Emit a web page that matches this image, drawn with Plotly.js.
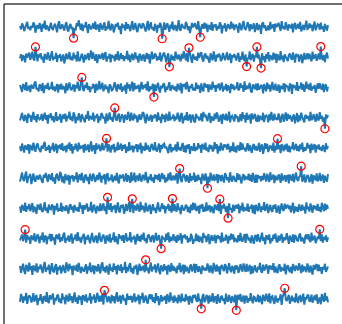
<!DOCTYPE html>
<html>
<head>
<meta charset="utf-8">
<script src="https://cdn.plot.ly/plotly-3.0.1.min.js"></script>
<style>html,body{margin:0;padding:0;background:#fff;}#chart{width:342px;height:324px;}</style>
</head>
<body>
<div id="chart"></div>
<script>
// Ten stacked signals (top row first), 300 samples each, values in tenths of a signal unit
const sig0 = [3,-8,12,5,-14,-2,9,17,-6,1,
-11,4,-3,15,8,-19,0,6,-7,13,
2,-16,10,-4,21,-9,5,-1,-13,7,
14,-5,-10,3,11,-2,-18,8,19,-6,
-3,9,1,-12,6,16,-8,-15,4,10,
-7,0,-37,-4,-11,13,2,22,5,-9,
11,-14,6,-1,17,-5,-20,9,3,-8,
0,12,-6,18,-10,4,7,-16,13,-3,
-9,5,15,-13,2,-7,20,-2,-11,8,
6,-18,-4,10,1,14,-9,3,-24,11,
-2,7,-12,16,-6,9,-1,-14,5,19,
-10,3,13,-8,-17,6,11,0,-5,12,
8,-4,-15,2,20,-11,4,16,-7,-1,
-13,10,1,-19,7,-3,14,5,-39,-6,
15,-9,4,12,-2,-16,8,-5,18,-11,
1,6,-14,-3,23,-8,-12,10,2,-4,
-6,17,9,-10,3,-20,5,13,-1,7,
12,-2,-8,19,-15,-34,0,9,-6,14,
-4,11,-17,6,2,-9,16,-13,8,-1,
9,-12,3,-6,15,7,-21,4,-3,12,
-15,2,10,-1,-7,18,-4,11,-10,5,
6,-3,-19,14,1,-11,8,20,-5,-8,
-1,16,4,-14,9,-6,-2,12,-17,3,
13,-10,7,2,-23,10,15,-4,6,-12,
-8,5,-11,17,-3,-1,9,-16,11,0,
4,14,-7,-13,19,-5,2,-9,16,-2,
-12,8,1,-4,11,-18,6,13,-8,3,
10,-6,17,-15,-1,7,-10,4,21,-7,
-5,12,-2,8,-14,3,18,-11,-3,9,
7,-9,14,-6,2,-16,10,1,-12,6];
const sig1 = [-4,10,-13,6,1,-17,12,-2,8,15,
-9,3,18,-6,-11,34,5,-14,9,-1,
13,-7,2,-19,11,4,-8,16,-3,-12,
6,20,-10,1,-5,14,-16,7,-2,10,
-14,4,9,-21,3,12,-6,-1,17,-9,
2,-11,15,-4,7,-15,19,-8,-13,5,
11,-3,-18,8,-7,1,13,-10,4,22,
-6,16,-1,-12,10,-20,3,9,-5,0,
14,-9,6,17,-15,2,-4,11,-17,8,
-2,5,-14,10,-8,19,-11,-3,13,-6,
7,-13,3,-5,21,-10,8,-16,1,12,
-10,0,16,-7,4,-18,11,6,-12,3,
9,-15,-2,14,-6,10,-21,5,18,-4,
-3,12,7,-11,2,-8,16,-14,0,10,
15,-6,-17,4,13,-32,-1,8,-9,3,
-12,18,1,-7,9,-2,-14,11,-5,20,
4,-10,13,-16,31,6,-4,-19,10,-1,
-8,2,-12,15,-3,9,17,-6,-15,7,
12,-5,5,-9,-18,13,1,-11,19,-3,
-15,8,-1,11,6,-13,-7,14,-2,-10,
3,16,-9,-4,12,-20,7,-1,10,-6,
-11,5,14,-16,2,-8,18,-3,-13,9,
-31,-2,-6,19,-10,4,11,-15,6,-1,
34,-4,8,-12,-36,13,-9,3,-17,10,
-5,17,-14,6,1,-10,15,-7,12,-19,
10,-3,-11,20,-8,5,-16,9,2,-6,
-13,7,12,-2,-9,16,-4,-18,11,4,
6,-15,3,9,-20,1,14,-8,-1,13,
-7,11,-4,-14,18,-6,2,10,-12,5,
12,-8,35,-3,-10,7,-16,4,15,-5];
const sig2 = [8,-3,-15,11,4,-9,17,-12,2,6,
-16,9,1,-5,13,20,-7,-2,-14,10,
5,-11,14,-19,0,7,-4,15,-8,-1,
-2,18,-9,3,-13,6,11,-17,9,-6,
12,-7,4,-1,-20,14,-10,2,16,-4,
-9,1,10,-15,7,-3,19,-6,-11,13,
33,-5,-12,8,-2,16,-8,4,-16,1,
-4,11,6,-18,12,-9,0,21,-7,3,
15,-13,-3,9,-6,2,-19,10,5,-10,
-8,4,17,-2,-14,11,-1,-7,13,-15,
2,-9,8,-21,16,-4,10,-12,6,19,
-13,14,-6,1,-3,9,-16,5,18,-7,
7,-2,11,-10,20,-14,3,-5,-1,12,
-32,9,-11,4,15,-7,-17,6,-3,10,
13,-16,2,-8,5,17,-12,0,8,-4,
-6,3,-14,12,-1,-9,15,-20,10,6,
9,-7,18,-3,-15,4,1,11,-10,-2,
-11,16,-5,7,2,-18,13,-6,-13,14,
4,-1,10,-16,9,-4,-8,19,-2,7,
-15,8,-2,13,-10,5,16,-14,3,-7,
11,-12,6,0,-19,12,-5,9,-9,2,
-3,17,-10,-6,14,-1,7,-15,20,-8,
6,-4,1,15,-12,-17,10,3,-6,12,
-10,13,-7,-2,8,4,-20,11,-1,-13,
16,-5,9,-14,2,18,-9,-3,12,-11,
-7,10,-18,5,-1,-6,14,-16,7,3,
2,-13,12,8,-22,9,-2,6,-10,17,
-12,4,-3,16,-8,11,-15,1,19,-5,
10,-9,15,-11,3,-4,8,-18,-2,13,
-5,14,-1,-7,12,-16,5,10,-13,2];
const sig3 = [-10,6,15,-3,-12,9,1,-18,13,4,
7,-14,-2,19,-8,5,-16,11,-1,-6,
-3,12,-11,2,16,-7,8,-20,10,0,
14,-9,5,-15,-4,18,-11,3,-6,12,
-17,1,10,-5,13,-13,6,-2,20,-8,
4,-12,17,8,-19,2,-9,14,-1,-15,
11,3,-7,-16,9,-4,21,-10,5,-3,
-6,16,-13,6,-1,12,-18,4,-9,15,
9,-4,2,-20,14,-11,-3,17,-7,1,
-14,8,32,-6,-10,5,13,-15,3,11,
2,-17,10,-1,-8,19,-5,-12,16,-4,
-9,13,-3,7,-16,1,11,-7,-2,18,
15,-6,-19,12,4,-10,-1,9,-14,6,
-2,10,5,-13,17,-8,3,-18,12,-5,
8,-15,13,-4,-11,20,-9,2,-3,10,
-12,4,-6,16,1,-14,8,15,-19,-1,
6,-8,18,-10,-3,11,-17,5,9,-12,
-16,12,-1,3,-9,-5,14,-13,19,2,
10,-2,-12,8,15,-18,4,-6,-10,13,
-5,17,7,-14,-1,9,-21,12,1,-8,
13,-10,-4,20,-16,3,6,-7,-13,11,
-1,5,-15,-6,11,-12,18,-3,8,-17,
16,-7,2,10,-20,14,-5,1,12,-9,
-11,9,-13,5,-2,-8,16,-15,4,7,
3,-16,11,-9,19,-4,-10,13,-6,0,
-8,14,-2,-17,6,12,-14,2,17,-11,
12,-5,8,-1,-13,4,10,-19,-3,15,
-15,7,-10,16,2,-7,-16,9,5,-4,
5,-12,19,-8,-5,11,-1,-14,13,-6,
-9,18,-4,6,-13,1,-37,10,-2,8];
const sig4 = [5,-11,14,-2,-16,8,3,-7,12,-19,
10,1,-9,17,-4,-13,6,15,-1,-8,
-14,7,-3,11,20,-10,2,-6,9,-17,
4,-5,16,-12,-1,13,-18,8,-2,11,
-7,15,-10,2,6,-15,10,-3,18,-9,
12,-19,5,-6,14,1,-12,17,-4,3,
-1,9,-16,13,-8,-3,11,-14,6,21,
-12,4,8,-20,15,-5,2,10,-11,-2,
16,-8,-1,7,31,-13,12,-4,-16,9,
-5,13,-15,3,-9,18,-6,0,14,-10,
9,-3,11,-17,4,-11,19,-8,2,7,
-15,6,-2,12,-14,10,-5,16,-19,3,
1,-10,17,-7,8,-1,-13,5,13,-4,
-8,19,-6,-12,3,14,-16,9,-3,11,
14,-2,4,-9,-18,7,12,-15,1,-6,
-4,11,-13,20,-7,2,-10,6,16,-14,
7,-16,10,-3,12,-20,5,-1,-9,15,
-11,3,-7,15,-1,9,-17,13,4,-5,
17,-9,1,-14,10,-4,8,-12,-6,19,
-3,12,-19,6,-11,16,-2,-8,11,2,
10,-6,13,-1,-15,5,-10,18,-13,4,
-16,8,3,-10,19,-7,14,-5,0,-12,
2,15,-11,9,-4,-17,7,12,-8,6,
-9,-1,16,-13,5,11,-20,3,15,-3,
13,-14,-5,8,1,-10,17,-16,6,-7,
30,-4,9,-18,12,-2,-11,10,-6,14,
-13,7,-15,4,-3,19,-8,1,13,-10,
6,-12,11,-5,17,-14,2,-9,-1,16,
-2,10,-18,14,-7,5,12,-16,8,-4,
11,-7,3,-11,9,-1,-14,15,-5,6];
const sig5 = [-12,7,18,-4,-10,9,21,-17,2,6,
13,-20,3,15,-7,-12,8,-2,-5,11,
4,-9,-16,10,1,17,-6,-13,12,-1,
-6,16,-11,2,-19,8,14,-4,-9,20,
11,-14,5,-18,13,-2,-7,10,-22,7,
-1,9,-12,6,-4,19,-15,3,12,-8,
17,-5,-16,7,11,-9,4,-20,14,1,
-10,14,6,-13,-2,10,-7,18,5,-15,
8,-3,13,-21,7,16,-11,1,-6,12,
-14,2,7,-9,17,-6,-18,11,-1,4,
12,-11,-4,15,-13,9,1,-16,19,-7,
-5,18,-14,3,8,-10,15,-2,-12,10,
6,-8,20,-1,-17,4,-6,13,-10,2,
-16,11,-3,9,-7,14,-13,5,16,-4,
10,-15,2,-11,14,-5,19,-9,-3,8,
-8,4,16,-19,1,31,-4,-14,7,13,
3,-12,9,-2,-16,15,-10,6,-7,18,
-13,8,-10,11,-5,2,-20,14,-1,-9,
15,1,-34,5,-14,18,-3,-8,12,-6,
-4,13,-17,8,6,-11,10,-1,-15,16,
9,-7,3,-15,19,-3,-12,7,2,-10,
-11,16,-6,12,-1,-18,5,13,-8,4,
2,-5,14,-9,10,-13,17,-4,-16,11,
-15,10,-1,6,-11,7,-7,16,-3,-12,
14,-3,-13,19,-6,1,11,-17,8,-2,
-7,12,5,-16,15,-8,-2,9,-13,6,
8,-18,11,-3,-9,14,-14,2,18,-5,
-10,3,7,39,-12,-4,12,-15,-1,10,
5,-14,-6,13,-19,9,1,-8,15,-11,
-3,17,-10,4,11,-16,7,-5,-12,13];
const sig6 = [6,-15,11,2,-8,18,-12,7,-3,14,
-10,1,17,-14,5,-1,-19,10,9,-5,
15,-7,-13,3,20,-9,2,-16,12,-2,
-4,12,6,-21,8,-6,16,-11,0,-8,
18,-12,5,1,-9,10,-6,-18,7,13,
-5,6,-15,11,-3,-8,3,-12,19,-1,
9,-19,10,-4,7,15,-11,2,-7,21,
-14,4,12,-6,-17,8,-2,-10,16,-9,
3,16,-9,6,-20,36,1,-5,17,-13,
7,-3,11,-16,2,19,-8,-14,9,5,
12,-18,-5,14,-9,4,20,-13,7,31,
-16,9,4,-8,15,-2,-12,21,-6,8,
1,-14,18,-4,-10,7,11,-19,5,13,
-7,2,-16,10,19,-5,-11,4,16,-3,
9,-17,6,-1,14,-9,8,-15,32,-10,
13,-4,-11,17,-6,3,-20,10,2,-8,
-2,11,7,-13,4,-16,12,-7,18,-5,
16,-9,-3,8,-18,11,-1,14,-12,5,
-11,19,-8,2,10,-14,6,-4,-17,12,
4,-6,13,-10,30,-19,9,-1,15,-7,
-13,7,-33,16,-5,1,-15,12,-9,6,
10,-2,14,-17,8,-7,18,-11,3,-4,
-8,15,-12,5,-1,12,-16,9,-20,11,
2,-10,17,-3,-13,6,-5,20,-9,1,
14,-16,1,11,-7,-12,10,-2,13,-15,
-6,9,-19,4,16,-4,-9,15,-1,7,
11,-3,8,-14,2,18,-17,6,-10,4,
-12,13,-1,-9,12,-6,5,-18,19,-3,
5,-11,16,-5,-15,10,-2,7,-8,14,
-9,4,-13,18,1,-10,15,-6,11,-2];
const sig7 = [-7,6,13,-9,2,29,-14,11,-3,5,
-18,10,4,-6,17,-11,-2,14,1,-16,
8,-4,20,-13,5,9,-19,6,-1,15,
-10,14,-6,3,-21,12,8,-3,16,-12,
4,-8,11,19,-15,1,-5,10,-11,7,
16,-17,2,-2,13,-9,21,-7,5,-14,
-1,8,15,-20,6,-4,11,-10,-16,3,
18,-7,-13,5,9,-16,2,19,-5,-11,
6,12,-1,-18,10,3,-9,15,-14,1,
-5,20,-12,7,-3,-19,14,0,9,-8,
11,-15,5,17,-10,2,-6,21,-13,4,
-2,9,-20,3,15,-8,7,-11,12,-4,
19,-9,1,-16,8,13,-5,-12,6,10,
-14,4,18,-7,-1,11,-19,-34,9,-3,
2,-11,16,-5,20,-13,6,-8,-2,14,
-9,7,-15,12,-4,-1,17,-17,10,3,
13,-3,8,-14,1,-10,15,5,-18,-6,
-6,16,-9,10,-12,6,-1,-15,18,2,
9,-12,3,14,-19,4,11,-7,-4,12,
-16,5,10,-2,7,-14,19,-10,1,-7,
12,1,-17,8,-6,16,-3,13,-12,-1,
-4,-13,11,-9,18,-5,-11,4,14,-15,
15,6,-7,2,-16,10,-2,-18,7,11,
-11,14,-3,-12,5,19,-8,3,-20,8,
7,-5,13,-17,1,-9,12,-1,16,-10,
-13,10,-8,6,15,-15,4,-6,-2,17,
3,-18,9,-1,-11,13,-14,11,5,-7,
-8,11,16,-10,3,-4,-17,8,12,-3,
14,-6,-12,19,-7,2,9,-16,-1,6,
-2,30,-9,13,-14,5,-5,10,-11,4];
const sig8 = [9,-14,3,16,-7,-18,12,5,-10,20,
-5,8,-21,11,2,-9,17,-13,6,-2,
14,-6,-15,9,22,-11,4,-3,13,-19,
1,18,-8,-12,7,15,-20,6,-4,10,
-16,5,12,-7,-14,21,3,-9,16,-1,
8,-22,10,4,-6,13,-11,19,-3,-15,
6,-1,-10,2,14,-17,7,-5,20,-12,
-4,11,-18,9,3,-10,15,-2,-16,12,
21,-8,5,-13,10,1,-20,16,-6,4,
-11,17,-4,8,-19,12,3,-7,14,-14,
5,-3,22,-15,6,-9,11,18,-12,2,
-17,9,-1,13,-21,4,16,-8,7,-5,
10,-12,29,-6,3,-16,8,20,-10,6,
-2,14,-13,5,17,-7,-19,11,2,-9,
15,-5,8,-20,12,4,-11,18,-6,9,
-8,3,-16,10,-3,19,-12,1,13,-18,
12,-10,6,-4,-15,7,14,-9,-1,16,
-14,15,2,-11,8,-2,-18,10,4,-6,
3,-7,17,1,-13,11,-5,-16,19,-3,
-10,13,-9,7,-20,6,12,-1,-8,15,
8,-16,4,18,-4,-12,9,2,-17,11,
-3,10,-14,-6,15,3,-10,17,-2,-11,
16,-9,1,12,-18,8,-15,5,11,-5,
-12,6,-3,19,-8,-14,13,-6,0,14,
4,-17,11,-2,9,-5,18,-13,7,-9,
-15,9,14,-10,2,-1,-7,16,-19,5,
11,-4,-12,6,-16,15,3,-8,10,-1,
-6,18,-2,-15,13,-10,7,1,-12,17,
2,-13,10,-5,-20,12,-4,9,15,-8,
13,-8,5,-17,6,-3,16,-11,1,7];
const sig9 = [-10,16,4,-13,8,-5,20,-17,3,11,
6,-12,-3,19,-9,7,13,-21,2,-6,
15,-4,-16,9,5,-10,22,-8,-14,12,
-2,7,17,-19,3,-6,10,14,-11,1,
-15,18,-2,6,-18,13,4,-9,18,-5,
9,-14,2,21,-10,5,-17,11,-3,8,
-20,12,6,-7,15,-12,3,-4,19,-16,
7,-1,14,-13,-6,20,4,-10,10,-8,
16,-19,28,12,-4,-11,8,2,-15,13,
-7,9,-15,4,22,-9,-2,11,-16,6,
13,-6,1,-20,17,-3,8,-3,10,-12,
4,18,-11,6,-5,14,-18,9,-1,20,
-13,3,11,-8,-16,7,15,-2,14,-10,
5,-14,19,-6,9,-21,3,12,-9,6,
-4,10,-17,16,2,-11,21,-5,7,-13,
11,-8,4,-15,13,1,-12,17,-6,-2,
-9,15,-5,8,-19,10,2,-14,12,3,
14,-3,-10,18,-7,-1,-33,6,16,-11,
-6,12,7,-16,11,-9,-4,19,-12,5,
8,-17,15,-2,-13,6,10,-7,1,-18,
17,-5,-9,13,3,-14,9,-1,-11,14,
-38,8,12,-4,16,-10,-3,11,-16,6,
10,-13,2,-7,19,-2,-15,7,5,-9,
-5,14,-12,10,-1,-18,13,4,-8,17,
3,-10,18,-15,6,9,-6,-17,11,1,
-12,2,-4,15,-20,8,16,35,-3,-7,
6,13,-16,-1,10,-8,4,-12,18,-4,
-14,7,9,-11,1,17,-19,5,-2,12,
12,-9,-6,14,-13,3,11,-5,15,-16,
-3,5,-18,16,2,-10,20,-6,8,-12];

// Sample indices flagged as outliers in each signal
const out0 = [52, 138, 175];
const out1 = [15, 145, 164, 220, 230, 234, 292];
const out2 = [60, 130];
const out3 = [92, 296];
const out4 = [84, 250];
const out5 = [155, 182, 273];
const out6 = [85, 109, 148, 194, 202];
const out7 = [5, 137, 291];
const out8 = [122];
const out9 = [82, 176, 210, 257];

const signals = [sig0, sig1, sig2, sig3, sig4, sig5, sig6, sig7, sig8, sig9];
const outliers = [out0, out1, out2, out3, out4, out5, out6, out7, out8, out9];
const rowGap = 100;

const traces = [];
const ox = [], oy = [];
signals.forEach((s, k) => {
  const off = (signals.length - 1 - k) * rowGap;
  const x = s.map((_, i) => i);
  const y = s.map(v => v + off);
  traces.push({
    type: 'scatter', mode: 'lines', x: x, y: y,
    line: {color: '#1f77b4', width: 2},
    hoverinfo: 'skip', showlegend: false
  });
  outliers[k].forEach(i => { ox.push(i); oy.push(s[i] + off); });
});
traces.push({
  type: 'scatter', mode: 'markers', x: ox, y: oy,
  marker: {symbol: 'circle-open', size: 8, color: '#ff0000', line: {width: 1.2, color: '#ff0000'}},
  hoverinfo: 'skip', showlegend: false
});

const layout = {
  width: 342, height: 324,
  margin: {l: 4, r: 0, t: 4, b: 0, pad: 0},
  paper_bgcolor: '#ffffff', plot_bgcolor: '#ffffff',
  showlegend: false,
  xaxis: {range: [-15.53, 312.6], showgrid: false, zeroline: false, showticklabels: false, ticks: '', showline: false, fixedrange: true},
  yaxis: {range: [-83.4, 976], showgrid: false, zeroline: false, showticklabels: false, ticks: '', showline: false, fixedrange: true},
  shapes: [
    {type: 'line', xref: 'paper', yref: 'paper', x0: 0, x1: 0, y0: 0, y1: 1, line: {color: '#404040', width: 1.5}, layer: 'above'},
    {type: 'line', xref: 'paper', yref: 'paper', x0: 0, x1: 1, y0: 1, y1: 1, line: {color: '#404040', width: 1.5}, layer: 'above'}
  ]
};

Plotly.newPlot('chart', traces, layout, {staticPlot: true, displayModeBar: false});
</script>
</body>
</html>
